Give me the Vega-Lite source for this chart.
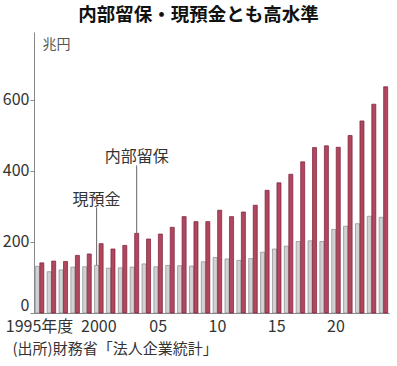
{
  "$schema": "https://vega.github.io/schema/vega-lite/v6.json",
  "autosize": "none",
  "width": 355,
  "height": 281,
  "padding": {"left": 34, "top": 32, "right": 8, "bottom": 53},
  "background": "white",
  "config": {"view": {"stroke": null}, "font": "Noto Sans CJK JP"},
  "title": {"text": "内部留保・現預金とも高水準", "fontSize": 18.5, "fontWeight": "bold", "color": "#111", "font": "Noto Sans CJK JP", "anchor": "middle", "dx": -13, "offset": 8},
  "datasets": {
    "bars": [
      {"year": 1995, "series": "現預金", "value": 131}, {"year": 1995, "series": "内部留保", "value": 141},
      {"year": 1996, "series": "現預金", "value": 116}, {"year": 1996, "series": "内部留保", "value": 146},
      {"year": 1997, "series": "現預金", "value": 121}, {"year": 1997, "series": "内部留保", "value": 145},
      {"year": 1998, "series": "現預金", "value": 129}, {"year": 1998, "series": "内部留保", "value": 162},
      {"year": 1999, "series": "現預金", "value": 130}, {"year": 1999, "series": "内部留保", "value": 166},
      {"year": 2000, "series": "現預金", "value": 134}, {"year": 2000, "series": "内部留保", "value": 195},
      {"year": 2001, "series": "現預金", "value": 126}, {"year": 2001, "series": "内部留保", "value": 180},
      {"year": 2002, "series": "現預金", "value": 127}, {"year": 2002, "series": "内部留保", "value": 190},
      {"year": 2003, "series": "現預金", "value": 129}, {"year": 2003, "series": "内部留保", "value": 224},
      {"year": 2004, "series": "現預金", "value": 138}, {"year": 2004, "series": "内部留保", "value": 208},
      {"year": 2005, "series": "現預金", "value": 130}, {"year": 2005, "series": "内部留保", "value": 222},
      {"year": 2006, "series": "現預金", "value": 134}, {"year": 2006, "series": "内部留保", "value": 241},
      {"year": 2007, "series": "現預金", "value": 133}, {"year": 2007, "series": "内部留保", "value": 271},
      {"year": 2008, "series": "現預金", "value": 132}, {"year": 2008, "series": "内部留保", "value": 257},
      {"year": 2009, "series": "現預金", "value": 144}, {"year": 2009, "series": "内部留保", "value": 257},
      {"year": 2010, "series": "現預金", "value": 156}, {"year": 2010, "series": "内部留保", "value": 289},
      {"year": 2011, "series": "現預金", "value": 152}, {"year": 2011, "series": "内部留保", "value": 271},
      {"year": 2012, "series": "現預金", "value": 148}, {"year": 2012, "series": "内部留保", "value": 284},
      {"year": 2013, "series": "現預金", "value": 153}, {"year": 2013, "series": "内部留保", "value": 303},
      {"year": 2014, "series": "現預金", "value": 171}, {"year": 2014, "series": "内部留保", "value": 345},
      {"year": 2015, "series": "現預金", "value": 180}, {"year": 2015, "series": "内部留保", "value": 366},
      {"year": 2016, "series": "現預金", "value": 188}, {"year": 2016, "series": "内部留保", "value": 390},
      {"year": 2017, "series": "現預金", "value": 201}, {"year": 2017, "series": "内部留保", "value": 425},
      {"year": 2018, "series": "現預金", "value": 203}, {"year": 2018, "series": "内部留保", "value": 465},
      {"year": 2019, "series": "現預金", "value": 201}, {"year": 2019, "series": "内部留保", "value": 470},
      {"year": 2020, "series": "現預金", "value": 235}, {"year": 2020, "series": "内部留保", "value": 466},
      {"year": 2021, "series": "現預金", "value": 244}, {"year": 2021, "series": "内部留保", "value": 499},
      {"year": 2022, "series": "現預金", "value": 251}, {"year": 2022, "series": "内部留保", "value": 540},
      {"year": 2023, "series": "現預金", "value": 272}, {"year": 2023, "series": "内部留保", "value": 587},
      {"year": 2024, "series": "現預金", "value": 269}, {"year": 2024, "series": "内部留保", "value": 636}
    ],
    "notes": [
      {"year": 2003, "series": "内部留保", "label": "内部留保", "textAt": 438, "lineTop": 415, "lineEnd": 224},
      {"year": 2000, "series": "現預金", "label": "現預金", "textAt": 318, "lineTop": 297, "lineEnd": 134}
    ]
  },
  "encoding": {
    "x": {
      "field": "year", "type": "ordinal",
      "scale": {"domain": [1995,1996,1997,1998,1999,2000,2001,2002,2003,2004,2005,2006,2007,2008,2009,2010,2011,2012,2013,2014,2015,2016,2017,2018,2019,2020,2021,2022,2023,2024], "paddingInner": 0.28, "paddingOuter": 0.11},
      "axis": {
        "values": [1995, 2000, 2005, 2010, 2015, 2020],
        "labelExpr": "datum.value == 1995 ? '1995年度' : datum.value == 2000 ? '2000' : slice('' + datum.value, 2)",
        "labelAngle": 0, "ticks": false, "labelPadding": 5,
        "labelFont": "Liberation Sans Narrow, Noto Sans CJK JP", "labelFontSize": 16, "labelColor": "#333",
        "domainColor": "#888", "domainWidth": 1,
        "title": "(出所)財務省「法人企業統計」",
        "titleFont": "Noto Sans CJK JP", "titleFontSize": 15, "titleFontWeight": "normal", "titleColor": "#333",
        "titleAnchor": "start", "titleAlign": "left", "titleX": -22, "titleY": 35, "titleBaseline": "middle"
      }
    },
    "xOffset": {"field": "series", "type": "nominal", "scale": {"domain": ["現預金", "内部留保"], "paddingInner": 0.1}},
    "y": {
      "type": "quantitative",
      "scale": {"domain": [0, 790], "nice": false},
      "axis": {
        "values": [0, 200, 400, 600], "grid": false, "tickSize": 4, "tickColor": "#888",
        "domainColor": "#888", "labelPadding": 1, "labelFlush": true,
        "labelFont": "Liberation Sans Narrow, Noto Sans CJK JP", "labelFontSize": 16, "labelColor": "#333",
        "title": "兆円", "titleAngle": 0, "titleX": 8, "titleY": 12, "titleAlign": "left", "titleBaseline": "middle",
        "titleFont": "Noto Sans CJK JP", "titleFontSize": 14, "titleFontWeight": "normal", "titleColor": "#555"
      }
    }
  },
  "layer": [
    {
      "data": {"name": "bars"},
      "mark": {"type": "bar", "strokeWidth": 0.7},
      "encoding": {
        "y": {"field": "value", "type": "quantitative"},
        "color": {"field": "series", "type": "nominal", "scale": {"domain": ["現預金", "内部留保"], "range": ["#d2d2d2", "#b0475f"]}, "legend": null},
        "stroke": {"field": "series", "type": "nominal", "scale": {"domain": ["現預金", "内部留保"], "range": ["#8a8a8a", "#7a2038"]}, "legend": null}
      }
    },
    {
      "data": {"name": "notes"},
      "mark": {"type": "rule", "color": "#666", "strokeWidth": 1},
      "encoding": {
        "y": {"field": "lineTop", "type": "quantitative"},
        "y2": {"field": "lineEnd"}
      }
    },
    {
      "data": {"name": "notes"},
      "mark": {"type": "text", "font": "Noto Sans CJK JP", "fontSize": 16, "color": "#333", "baseline": "middle", "align": "center"},
      "encoding": {
        "y": {"field": "textAt", "type": "quantitative"},
        "text": {"field": "label"},
        "dx": {"condition": {"test": "datum.series == '現預金'", "value": -7}, "value": -1}
      }
    }
  ]
}
